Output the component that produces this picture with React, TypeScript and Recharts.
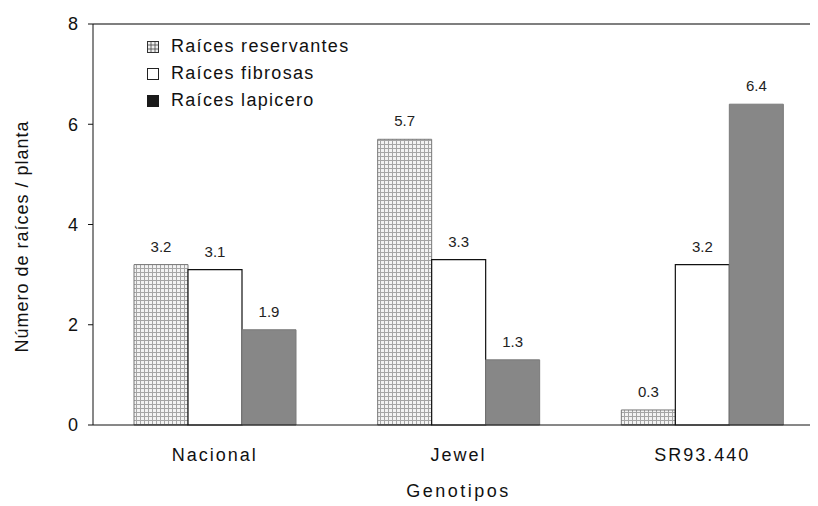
import { Bar, BarChart, LabelList, Legend, ReferenceLine, XAxis, YAxis } from "recharts";

const genotipos = ["Nacional", "Jewel", "SR93.440"];
const reservantes = [3.2, 5.7, 0.3];
const fibrosas = [3.1, 3.3, 3.2];
const lapicero = [1.9, 1.3, 6.4];
const yTicks = [0, 2, 4, 6, 8];
const serieOrden = ["reservantes", "fibrosas", "lapicero"];
const serieNombres = {
  reservantes: "Raíces reservantes",
  fibrosas: "Raíces fibrosas",
  lapicero: "Raíces lapicero",
};

const data = genotipos.map((g, i) => ({
  genotipo: g,
  reservantes: reservantes[i],
  fibrosas: fibrosas[i],
  lapicero: lapicero[i],
}));

const FONT = '"Liberation Sans", Arial, sans-serif';

function LegendIcon({ dataKey }: { dataKey: string }) {
  if (dataKey === "reservantes") {
    return (
      <svg width={12} height={12}>
        <rect x={0.5} y={0.5} width={11} height={11} fill="#eee" stroke="#333" />
        <path d="M4 1V11M8 1V11M1 4H11M1 8H11" stroke="#444" strokeWidth={0.8} />
      </svg>
    );
  }
  if (dataKey === "fibrosas") {
    return (
      <svg width={12} height={12}>
        <rect x={0.5} y={0.5} width={11} height={11} fill="#fff" stroke="#222" />
      </svg>
    );
  }
  return (
    <svg width={12} height={12}>
      <rect x={0} y={0} width={12} height={12} fill="#1a1a1a" />
    </svg>
  );
}

function renderLegend(props: any) {
  const payload = [...(props.payload || [])].sort(
    (a: any, b: any) => serieOrden.indexOf(a.dataKey) - serieOrden.indexOf(b.dataKey)
  );
  return (
    <div style={{ fontFamily: FONT, fontSize: 18, letterSpacing: 1.3, color: "#111" }}>
      {payload.map((p: any) => (
        <div key={p.dataKey} style={{ display: "flex", alignItems: "center", height: 27 }}>
          <LegendIcon dataKey={p.dataKey} />
          <span style={{ marginLeft: 12 }}>{p.value}</span>
        </div>
      ))}
    </div>
  );
}

const fmt = (v: any) => Number(v).toFixed(1);

export default function App() {
  return (
    <div
      style={{
        margin: "-8px 0 0 -8px",
        width: 818,
        height: 506,
        overflow: "hidden",
        position: "relative",
        background: "#fff",
      }}
    >
      <BarChart
        width={830}
        height={506}
        data={data}
        margin={{ top: 24, right: 6, bottom: 11, left: 0 }}
        barCategoryGap={41}
        barGap={0}
      >
        <defs>
          <pattern id="gridPat" width={4} height={4} patternUnits="userSpaceOnUse">
            <rect width={4} height={4} fill="#f3f3f3" />
            <path d="M0 0.5H4M0.5 0V4" stroke="#a5a5a5" strokeWidth={1} />
          </pattern>
        </defs>
        <ReferenceLine y={8} stroke="#555" strokeWidth={1.5} />
        <XAxis
          dataKey="genotipo"
          height={70}
          tickLine={false}
          tickSize={0}
          tickMargin={23}
          axisLine={{ stroke: "#111" }}
          tick={{ fontSize: 18, fill: "#111", fontFamily: FONT, letterSpacing: 2 }}
          label={{
            content: ({ viewBox }: any) => (
              <text
                x={viewBox.x + viewBox.width / 2}
                y={viewBox.y + 72}
                textAnchor="middle"
                fontSize={18}
                fontFamily={FONT}
                letterSpacing={2.5}
                fill="#111"
              >
                Genotipos
              </text>
            ),
          }}
        />
        <YAxis
          width={93}
          domain={[0, 8]}
          ticks={yTicks}
          tickSize={5}
          tickMargin={10}
          axisLine={{ stroke: "#111" }}
          tickLine={{ stroke: "#111" }}
          tick={{ fontSize: 18, fill: "#111", fontFamily: FONT }}
          label={{
            content: ({ viewBox }: any) => {
              const cx = viewBox.x + 22;
              const cy = viewBox.y + viewBox.height / 2 + 12;
              return (
                <text
                  x={cx}
                  y={cy}
                  transform={`rotate(-90 ${cx} ${cy})`}
                  textAnchor="middle"
                  dominantBaseline="central"
                  fontSize={18}
                  fontFamily={FONT}
                  letterSpacing={1}
                  fill="#111"
                >
                  Número de raíces / planta
                </text>
              );
            },
          }}
        />
        <Legend
          layout="vertical"
          align="center"
          verticalAlign="middle"
          content={renderLegend}
          wrapperStyle={{ top: 33, left: 147, width: 260, height: 81 }}
        />
        <Bar
          dataKey="reservantes"
          name={serieNombres.reservantes}
          fill="url(#gridPat)"
          stroke="#777"
          strokeWidth={1}
          isAnimationActive={false}
        >
          <LabelList dataKey="reservantes" position="top" offset={13} formatter={fmt} fontSize={15} fill="#222" fontFamily={FONT} />
        </Bar>
        <Bar
          dataKey="fibrosas"
          name={serieNombres.fibrosas}
          fill="#fff"
          stroke="#111"
          strokeWidth={1.2}
          isAnimationActive={false}
        >
          <LabelList dataKey="fibrosas" position="top" offset={13} formatter={fmt} fontSize={15} fill="#222" fontFamily={FONT} />
        </Bar>
        <Bar
          dataKey="lapicero"
          name={serieNombres.lapicero}
          fill="#878787"
          stroke="#7a7a7a"
          strokeWidth={1}
          isAnimationActive={false}
        >
          <LabelList dataKey="lapicero" position="top" offset={13} formatter={fmt} fontSize={15} fill="#222" fontFamily={FONT} />
        </Bar>
      </BarChart>
    </div>
  );
}
